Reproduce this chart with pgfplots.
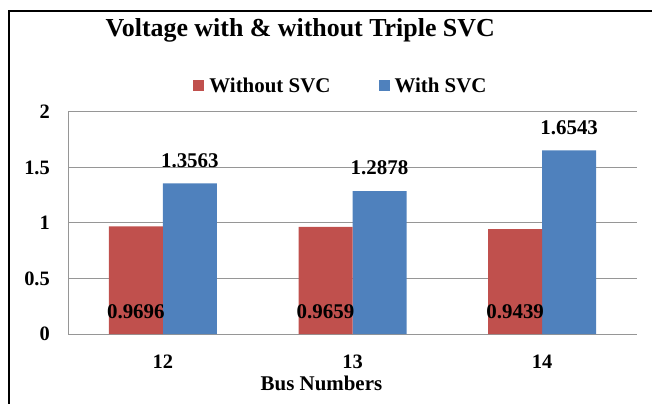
\documentclass[border=0pt]{standalone}
\usepackage{fontspec}
\setmainfont{Liberation Serif}
\usepackage{pgfplots}
\pgfplotsset{compat=1.18}
\definecolor{barred}{HTML}{C0504D}
\definecolor{barblue}{HTML}{4F81BD}
\definecolor{gridgray}{HTML}{969696}

\begin{document}
\begin{tikzpicture}
\begin{axis}[
  at={(68bp,70bp)}, anchor=south west,
  scale only axis, width=569bp, height=222bp,
  ybar=0pt, bar width=54bp,
  xmin=-0.5, xmax=2.5, ymin=0, ymax=2,
  xtick={0,1,2}, xticklabels={12,13,14},
  ytick={0,0.5,1,1.5,2},
  axis x line*=bottom, axis y line*=left,
  axis line style={gridgray, line width=1bp, -},
  ymajorgrids, grid style={gridgray, line width=1bp},
  major tick length=0pt,
  /pgf/number format/assume math mode=true,
  tick label style={font=\fontsize{20.5}{24}\selectfont\bfseries},
  yticklabel style={inner sep=0pt, anchor=east, xshift=-18bp},
  xticklabel style={inner sep=0pt, anchor=center, yshift=-28bp},
  xlabel={Bus Numbers},
  xlabel style={font=\fontsize{21}{24}\selectfont\bfseries, inner sep=0pt,
    at={(axis description cs:0.4455,0)}, anchor=center, yshift=-49bp},
  every axis title shift=0pt,
  title={Voltage with \& without Triple SVC},
  title style={font=\fontsize{26}{30}\selectfont\bfseries, inner sep=0pt,
    at={(axis description cs:0.408,1.369)}, anchor=center},
  legend image code/.code={\fill[#1] (0bp,-5.5bp) rectangle (11bp,5.5bp);},
  legend columns=2, reverse legend,
  legend style={at={(axis description cs:0.478,1.119)}, anchor=center,
    draw=none, fill=none, font=\fontsize{21}{24}\selectfont\bfseries,
    nodes={inner sep=0pt},
    /tikz/every odd column/.append style={column sep=5bp},
    /tikz/every even column/.append style={column sep=48bp}},
  point meta=explicit symbolic,
  nodes near coords,
  nodes near coords style={font=\fontsize{21}{24}\selectfont\bfseries, inner sep=0pt, anchor=center},
]
% With SVC (drawn first so the red labels sit on top)
\addplot[fill=barblue, draw=none, bar shift=27bp,
  nodes near coords style={yshift=23bp}]
  coordinates {(0,1.3563) [1.3563] (1,1.2878) [1.2878] (2,1.6543) [1.6543]};
% Without SVC, labels at the bar base
\addplot[fill=barred, draw=none, bar shift=-27bp,
  visualization depends on={y \as \rawy},
  nodes near coords style={yshift={(0.198-\rawy)*111bp}}]
  coordinates {(0,0.9696) [0.9696] (1,0.9659) [0.9659] (2,0.9439) [0.9439]};
\legend{With SVC, Without SVC}
\end{axis}
\draw[line width=2.2bp] (9bp,-5bp) -- (9bp,393bp) -- (660bp,393bp);
\pgfresetboundingbox
\useasboundingbox (0,0) rectangle (652bp,404bp);
\end{tikzpicture}
\end{document}
